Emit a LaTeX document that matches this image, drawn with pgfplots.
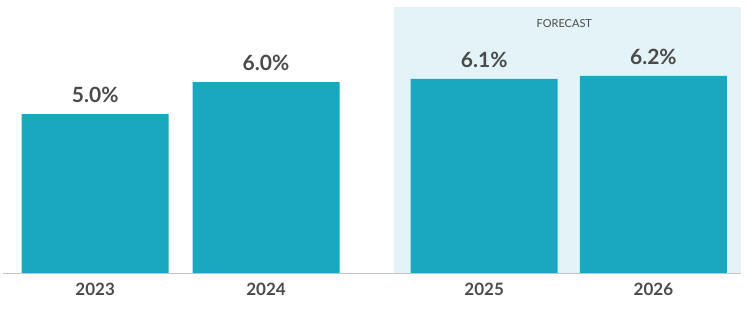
\documentclass[border=0pt]{standalone}
\usepackage{pgfplots}
\pgfplotsset{compat=1.18}
\usepackage{fontspec}
\setmainfont{Lato}
\definecolor{barc}{HTML}{1AA7C0}
\definecolor{fcbg}{HTML}{E3F3F7}
\definecolor{txt}{HTML}{4A4A4A}
\definecolor{basel}{HTML}{C4C4C4}
\begin{document}
\begin{tikzpicture}
\begin{axis}[
  scale only axis,
  width=750pt, height=273.3pt,
  xmin=0, xmax=750,
  ymin=0, ymax=8.58,
  clip=false,
  /pgf/number format/assume math mode=true,
  axis line style={draw=none},
  major tick length=0pt,
  ytick=\empty,
  xtick={95.2,266,484.2,653.4},
  xticklabels={2023,2024,2025,2026},
  xticklabel style={font=\fontsize{17}{17}\selectfont\bfseries, text=txt, anchor=north, inner sep=0pt, yshift=-10pt},
  ybar,
  bar width=147,
  nodes near coords={\pgfmathprintnumber[fixed,fixed zerofill,precision=1,assume math mode=true]{\pgfplotspointmeta}\%},
  every node near coord/.append style={font=\fontsize{21}{21}\selectfont\bfseries, text=txt, anchor=south, inner sep=0pt, yshift=11pt},
]
\path (axis cs:0,-1.309) coordinate (bl) (rel axis cs:1,1) coordinate (tr);
\fill[fcbg] (axis cs:394,0) rectangle (axis cs:741,8.35);
\node[font=\fontsize{11}{11}\selectfont, text=txt] at (axis cs:564.3,7.85) {FORECAST};
\addplot[fill=barc, draw=none] coordinates {(95.2,5.0) (266,6.0) (484.2,6.1) (653.4,6.2)};
\draw[basel, line width=1.2pt] (axis cs:3,0) -- (axis cs:741,0);
\end{axis}
\pgfresetboundingbox
\path[use as bounding box] (bl) rectangle (tr);
\end{tikzpicture}
\end{document}
